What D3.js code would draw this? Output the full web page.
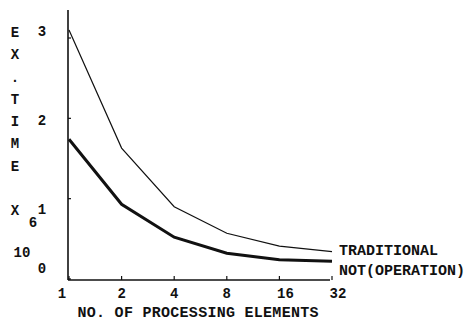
<!DOCTYPE html>
<html><head><meta charset="utf-8">
<script src="https://cdn.jsdelivr.net/npm/d3@7"></script>
<style>
html,body{margin:0;padding:0;background:#fff;}
text{font-family:"Liberation Mono","DejaVu Sans Mono",monospace;font-weight:bold;fill:#111;}
</style></head><body>
<svg id="c" width="466" height="322"></svg>
<script>
const processors = [1, 2, 4, 8, 16, 32];
const traditional = [3.1, 1.63, 0.90, 0.57, 0.41, 0.34];
const notOperation = [1.74, 0.93, 0.52, 0.32, 0.24, 0.22];
const yTicks = [0, 1, 2, 3];
const xTickLabels = ["1", "2", "4", "8", "16", "32"];
const seriesNames = ["TRADITIONAL", "NOT(OPERATION)"];
const yTitleLetters = ["E", "X", ".", "T", "I", "M", "E"];

const svg = d3.select("#c");
const x = d3.scaleLog().base(2).domain([1, 32]).range([69, 332]);
const y = d3.scaleLinear().domain([0, 3]).range([279, 38]);

// axes
svg.append("line").attr("x1", 68).attr("x2", 68).attr("y1", 10).attr("y2", 280)
  .attr("stroke", "#111").attr("stroke-width", 1.6);
svg.append("line").attr("x1", 68).attr("x2", 330).attr("y1", 280).attr("y2", 280)
  .attr("stroke", "#111").attr("stroke-width", 1.6);

// y ticks
svg.selectAll(".yt").data(yTicks).enter().append("line")
  .attr("x1", 68).attr("x2", 71).attr("y1", d => y(d)).attr("y2", d => y(d))
  .attr("stroke", "#111").attr("stroke-width", 1.2);
const yLabelNudge = [-11, 10, 2, -7];
svg.selectAll(".yl").data(yTicks).enter().append("text")
  .attr("x", 42).attr("y", (d, i) => y(d) + yLabelNudge[i])
  .attr("dy", "0.35em").attr("text-anchor", "middle").attr("font-size", 14)
  .text(d => d);

// x ticks
svg.selectAll(".xt").data(processors).enter().append("line")
  .attr("x1", d => x(d)).attr("x2", d => x(d)).attr("y1", 280).attr("y2", 276)
  .attr("stroke", "#111").attr("stroke-width", 1.2);
svg.selectAll(".xl").data(processors).enter().append("text")
  .attr("x", (d, i) => x(d) + (i === 0 ? -7 : i >= 4 ? 6 : 0)).attr("y", 293)
  .attr("dy", "0.35em").attr("text-anchor", "middle").attr("font-size", 14)
  .text((d, i) => xTickLabels[i]);

// x title
svg.append("text").attr("x", 198).attr("y", 312).attr("dy", "0.35em")
  .attr("text-anchor", "middle").attr("font-size", 15).attr("textLength", 241)
  .text("NO. OF PROCESSING ELEMENTS");

// y title letters
svg.selectAll(".ylet").data(yTitleLetters).enter().append("text")
  .attr("x", 15).attr("y", (d, i) => 32 + i * 22.3).attr("dy", "0.35em")
  .attr("text-anchor", "middle").attr("font-size", 14).text(d => d);
svg.append("text").attr("x", 15).attr("y", 210).attr("dy", "0.35em")
  .attr("text-anchor", "middle").attr("font-size", 14).text("X");
svg.append("text").attr("x", 33).attr("y", 222).attr("dy", "0.35em")
  .attr("text-anchor", "middle").attr("font-size", 14).text("6");
svg.append("text").attr("x", 22).attr("y", 252).attr("dy", "0.35em")
  .attr("text-anchor", "middle").attr("font-size", 14).text("10");

// lines
const line = d3.line().x((d, i) => x(processors[i])).y(d => y(d));
svg.append("path").datum(traditional).attr("d", line)
  .attr("fill", "none").attr("stroke", "#111").attr("stroke-width", 1.2);
svg.append("path").datum(notOperation).attr("d", line)
  .attr("fill", "none").attr("stroke", "#111").attr("stroke-width", 3);

// series labels
svg.append("text").attr("x", 339).attr("y", 250).attr("dy", "0.35em")
  .attr("font-size", 15).text(seriesNames[0]);
svg.append("text").attr("x", 339).attr("y", 270).attr("dy", "0.35em")
  .attr("font-size", 15).text(seriesNames[1]);
</script>
</body></html>
